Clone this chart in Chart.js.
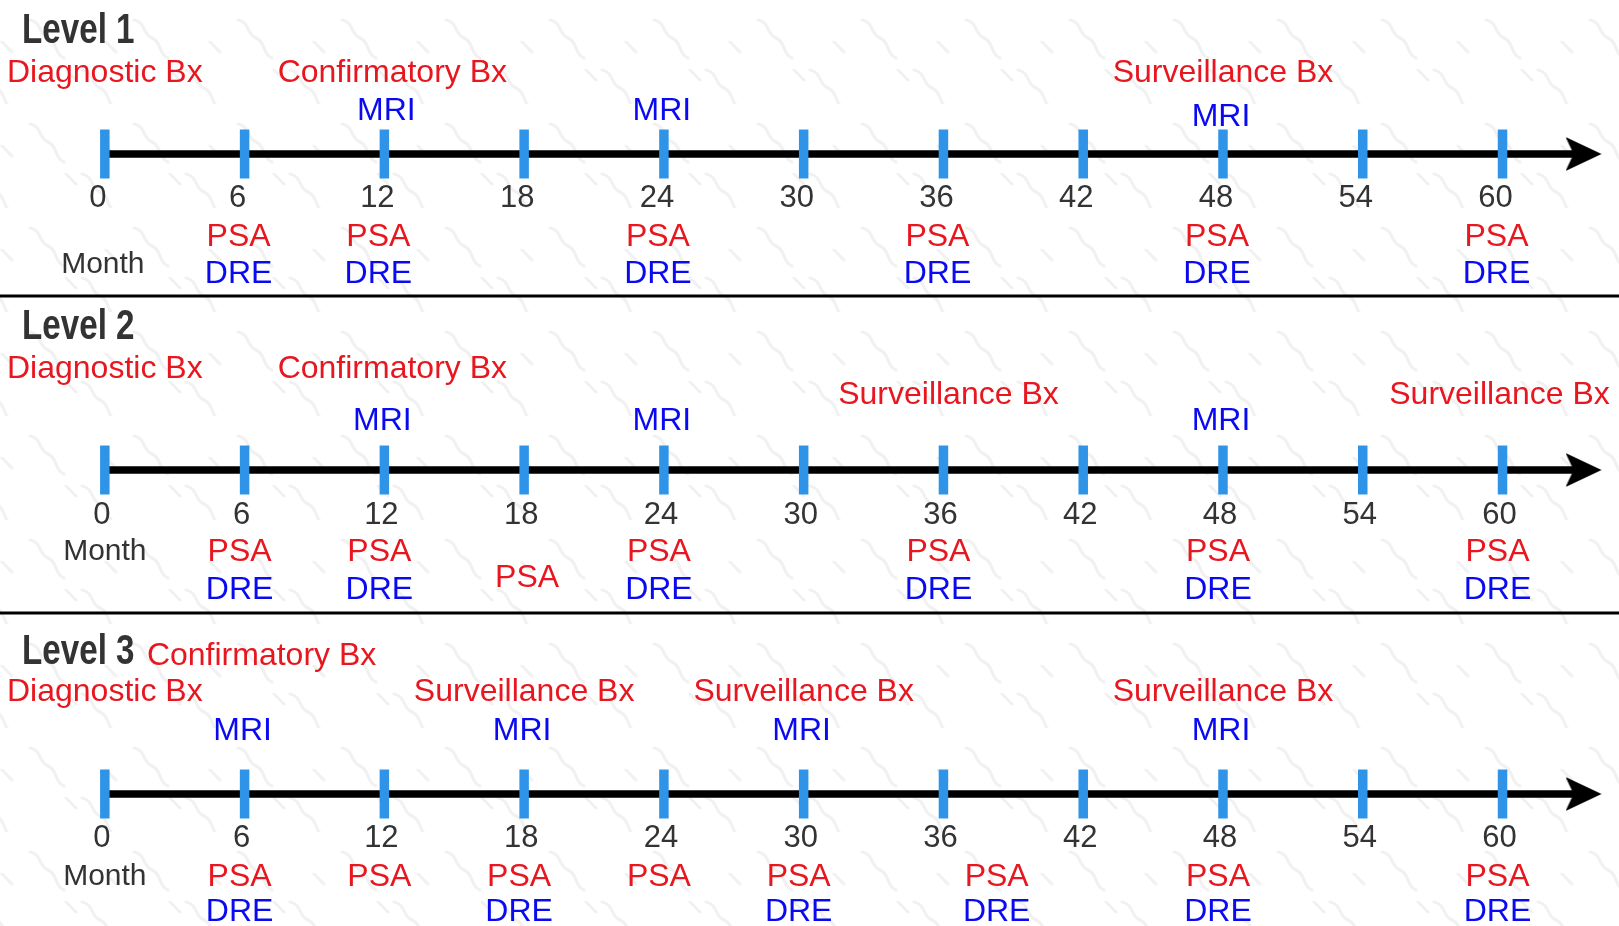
<!DOCTYPE html>
<html>
<head>
<meta charset="utf-8">
<script src="https://cdn.jsdelivr.net/npm/chart.js@4/dist/chart.umd.min.js"></script>
<style>
  html, body { margin: 0; padding: 0; background: #ffffff; }
  #wrap { position: relative; width: 1619px; height: 926px; }
</style>
</head>
<body>
<div id="wrap"><canvas id="c"></canvas></div>
<script>
// ---------------- DATA ----------------
const MONTHS = [0, 6, 12, 18, 24, 30, 36, 42, 48, 54, 60];
const TICK_LABELS = ['0', '6', '12', '18', '24', '30', '36', '42', '48', '54', '60'];
const LEVEL_NAMES = ['Level 1', 'Level 2', 'Level 3'];
const AXIS_END = 64.25;          // arrow tip (months)
const MONTH_LABEL = 'Month';

// Level 1
const L1_BX_MONTHS = [0, 12, 48];
const L1_BX_NAMES  = ['Diagnostic Bx', 'Confirmatory Bx', 'Surveillance Bx'];
const L1_MRI = [12, 24, 48];
const L1_PSA = [6, 12, 24, 36, 48, 60];
const L1_DRE = [6, 12, 24, 36, 48, 60];

// Level 2
const L2_BX_MONTHS = [0, 12, 36, 60];
const L2_BX_NAMES  = ['Diagnostic Bx', 'Confirmatory Bx', 'Surveillance Bx', 'Surveillance Bx'];
const L2_MRI = [12, 24, 48];
const L2_PSA = [6, 12, 18, 24, 36, 48, 60];
const L2_DRE = [6, 12, 24, 36, 48, 60];

// Level 3
const L3_BX_MONTHS = [0, 6, 18, 30, 48];
const L3_BX_NAMES  = ['Diagnostic Bx', 'Confirmatory Bx', 'Surveillance Bx', 'Surveillance Bx', 'Surveillance Bx'];
const L3_MRI = [6, 18, 30, 48];
const L3_PSA = [6, 12, 18, 24, 30, 38.5, 48, 60];
const L3_DRE = [6, 18, 30, 38.5, 48, 60];

// ---------------- LAYOUT (vertical rows, in canvas pixels) ----------------
const RED = '#e8161f', BLUE = '#0a0af2', TICKBLUE = '#2f94e8', DARK = '#333333';
const LAYOUT = [
  { axis: 154, title: 31, bx: 73, bxLate: 73, mri: 111, mriLate: 117, num: 198, psa: 237, psaLate: 237, month: 265, dre: 274, sep: 296 },
  { axis: 470, title: 327, bx: 369, bxLate: 395, mri: 421, mriLate: 421, num: 515, psa: 552, psaLate: 578, month: 552, dre: 590, sep: 613 },
  { axis: 794, title: 652, bx: 692, bxLate: 692, mri: 731, mriLate: 731, num: 838, psa: 877, psaLate: 877, month: 877, dre: 912, sep: null }
];
const LEVEL_DATA = [
  { bxM: L1_BX_MONTHS, bxN: L1_BX_NAMES, mri: L1_MRI, psa: L1_PSA, dre: L1_DRE },
  { bxM: L2_BX_MONTHS, bxN: L2_BX_NAMES, mri: L2_MRI, psa: L2_PSA, dre: L2_DRE },
  { bxM: L3_BX_MONTHS, bxN: L3_BX_NAMES, mri: L3_MRI, psa: L3_PSA, dre: L3_DRE }
];

// ---------------- arrow head point style ----------------
function makeArrow() {
  const c = document.createElement('canvas');
  c.width = 72; c.height = 36;
  const g = c.getContext('2d');
  g.fillStyle = '#000';
  g.beginPath();
  g.moveTo(36, 18);      // tip at centre
  g.lineTo(0, 1);
  g.lineTo(8, 18);
  g.lineTo(0, 35);
  g.closePath();
  g.fill();
  return c;
}
const ARROW = makeArrow();

// ---------------- background pattern ----------------
function makeTile() {
  const c = document.createElement('canvas');
  c.width = 104; c.height = 104;
  const g = c.getContext('2d');
  g.fillStyle = '#fff'; g.fillRect(0, 0, 104, 104);
  g.strokeStyle = '#f1f1f1'; g.lineWidth = 3; g.lineCap = 'round';
  function squiggle(x, y) {
    g.beginPath();
    g.moveTo(x, y);
    g.bezierCurveTo(x + 12, y + 2, x + 8, y + 14, x + 18, y + 18);
    g.bezierCurveTo(x + 28, y + 22, x + 24, y + 34, x + 34, y + 38);
    g.stroke();
  }
  squiggle(30, 20);
  g.beginPath(); g.moveTo(2, 42); g.lineTo(12, 52); g.stroke();
  g.beginPath(); g.moveTo(66, 70); g.lineTo(76, 80); g.stroke();
  squiggle(-22, 70); squiggle(82, 70);
  return c;
}

// ---------------- datasets ----------------
const datasets = [];
LAYOUT.forEach((L, i) => {
  datasets.push({
    type: 'line', data: [{ x: 0, y: L.axis }, { x: AXIS_END - 0.6, y: L.axis }],
    borderColor: '#000', borderWidth: 7.5, pointRadius: 0, order: 3
  });
  datasets.push({
    type: 'scatter', data: MONTHS.map(m => ({ x: m, y: L.axis })),
    pointStyle: 'line', rotation: 90, radius: 24.5, borderWidth: 9.5,
    borderColor: TICKBLUE, backgroundColor: TICKBLUE, order: 1
  });
  datasets.push({
    type: 'scatter', data: [{ x: AXIS_END, y: L.axis }],
    pointStyle: ARROW, order: 2
  });
  if (L.sep !== null) {
    datasets.push({
      type: 'line', data: [{ x: -4.5, y: L.sep }, { x: 65, y: L.sep }],
      borderColor: '#000', borderWidth: 3, pointRadius: 0, order: 3
    });
  }
});

const FONT = '"Liberation Sans", Arial, sans-serif';

const textPlugin = {
  id: 'timelineText',
  beforeDraw(chart) {
    const ctx = chart.ctx;
    const pat = ctx.createPattern(makeTile(), 'repeat');
    ctx.save();
    ctx.fillStyle = pat;
    ctx.fillRect(0, 0, chart.width, chart.height);
    ctx.restore();
  },
  afterDatasetsDraw(chart) {
    const ctx = chart.ctx, xs = chart.scales.x, ys = chart.scales.y;
    const X = m => xs.getPixelForValue(m), Y = v => ys.getPixelForValue(v);
    function txt(s, x, y, color, size, align) {
      ctx.font = size + 'px ' + FONT;
      ctx.fillStyle = color;
      ctx.textAlign = align || 'center';
      ctx.textBaseline = 'middle';
      ctx.fillText(s, x, y);
    }
    ctx.save();
    LAYOUT.forEach((L, i) => {
      const D = LEVEL_DATA[i];
      const DX = i === 0 ? -6 : -5;
      // title (bold condensed)
      ctx.save();
      ctx.font = 'bold 42px ' + FONT;
      ctx.fillStyle = DARK; ctx.textAlign = 'left'; ctx.textBaseline = 'middle';
      ctx.translate(22, Y(L.title));
      ctx.scale(0.79, 1);
      ctx.fillText(LEVEL_NAMES[i], 0, 0);
      ctx.restore();
      // tick numbers
      const ndx = i === 0 ? -7 : -3;
      MONTHS.forEach((m, k) => txt(TICK_LABELS[k], X(m) + ndx, Y(L.num), DARK, 31));
      txt(MONTH_LABEL, X(0) + (i === 0 ? -2 : 0), Y(L.month), DARK, 30);
      // biopsies
      D.bxM.forEach((m, k) => {
        const name = D.bxN[k];
        let x = X(m), y = Y(L.bx);
        if (name === 'Confirmatory Bx') {
          if (i === 2) { x = X(m) + 17; y = Y(L.title + 4); } else { x = X(m) + 8; }
        } else if (name === 'Surveillance Bx') {
          y = Y(L.bxLate); x = X(m) + (i === 1 ? (m === 60 ? -3 : 5) : 0);
        }
        txt(name, x, y, RED, 32);
      });
      // MRI
      D.mri.forEach(m => {
        const late = (i === 0 && m === 48);
        txt('MRI', X(m) + (i === 0 && m === 12 ? 2 : -2), Y(late ? L.mriLate : L.mri), BLUE, 32);
      });
      // PSA
      D.psa.forEach(m => {
        const low = (i === 1 && m === 18);
        txt('PSA', X(m) + DX + (low ? 8 : 0), Y(low ? L.psaLate : L.psa), RED, 32);
      });
      // DRE
      D.dre.forEach(m => txt('DRE', X(m) + DX, Y(L.dre), BLUE, 32));
    });
    ctx.restore();
  }
};

new Chart(document.getElementById('c'), {
  type: 'scatter',
  data: { datasets },
  options: {
    responsive: true, maintainAspectRatio: false, animation: false,
    layout: { padding: 0, autoPadding: false },
    plugins: { legend: { display: false }, tooltip: { enabled: false } },
    events: [],
    scales: {
      x: { type: 'linear', min: -4.5, max: 65, display: false },
      y: { type: 'linear', min: 0, max: 926, reverse: true, display: false }
    }
  },
  plugins: [textPlugin]
});
</script>
</body>
</html>
